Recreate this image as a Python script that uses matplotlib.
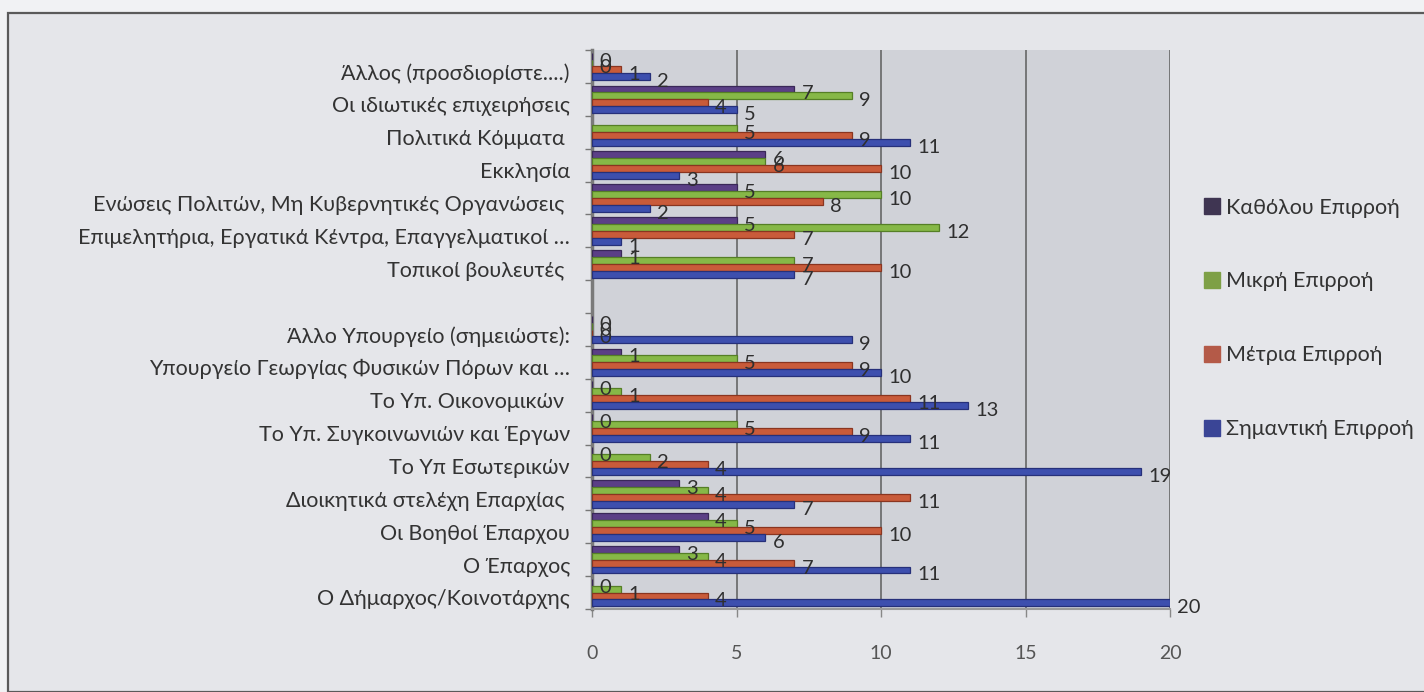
import numpy as np
import matplotlib
matplotlib.use('Agg')
import matplotlib.pyplot as plt
from matplotlib.patches import Rectangle
from matplotlib.lines import Line2D

plt.rcParams['font.family'] = ['Lato', 'DejaVu Sans']

# categories, top to bottom (one empty slot between the two groups)
categories = [
    'Άλλος (προσδιορίστε....)',
    'Οι ιδιωτικές επιχειρήσεις',
    'Πολιτικά Κόμματα ',
    'Εκκλησία',
    'Ενώσεις Πολιτών, Μη Κυβερνητικές Οργανώσεις ',
    'Επιμελητήρια, Εργατικά Κέντρα, Επαγγελματικοί …',
    'Τοπικοί βουλευτές ',
    '',
    'Άλλο Υπουργείο (σημειώστε):',
    'Υπουργείο Γεωργίας Φυσικών Πόρων και …',
    'Το Υπ. Οικονομικών ',
    'Το Υπ. Συγκοινωνιών και Έργων',
    'Το Υπ Εσωτερικών',
    'Διοικητικά στελέχη Επαρχίας ',
    'Οι Βοηθοί Έπαρχου',
    'Ο Έπαρχος',
    'Ο Δήμαρχος/Κοινοτάρχης',
]

nan = np.nan
kathólou = [0, 7, nan, 6, 5, 5, 1, nan, 0, 1, 0, 0, 0, 3, 4, 3, 0]
mikri = [0, 9, 5, 6, 10, 12, 7, nan, 0, 5, 1, 5, 2, 4, 5, 4, 1]
metria = [1, 4, 9, 10, 8, 7, 10, nan, 0, 9, 11, 9, 4, 11, 10, 7, 4]
simantiki = [2, 5, 11, 3, 2, 1, 7, nan, 9, 10, 13, 11, 19, 7, 6, 11, 20]

series_names = ['Καθόλου Επιρροή', 'Μικρή Επιρροή', 'Μέτρια Επιρροή', 'Σημαντική Επιρροή']
series_values = [kathólou, mikri, metria, simantiki]
face_colors = ['#5b3f86', '#86b847', '#c95b3a', '#3d4fae']
edge_colors = ['#3a2858', '#557f26', '#8a3520', '#26307a']
legend_colors = ['#3f3552', '#7ea046', '#b45a48', '#3a4596']

fig = plt.figure(figsize=(14.24, 6.92), dpi=100, facecolor='#f1f2f4')

# outer frame of the chart
fig.patches.append(Rectangle((8 / 1424, 0), 1.0, 1 - 13 / 692, transform=fig.transFigure,
                             facecolor='#e5e6ea', edgecolor='#5a5a5a', linewidth=1.6, zorder=-5))

ax = fig.add_axes([592 / 1424, 1 - 609 / 692, 578 / 1424, 559 / 692])
ax.set_facecolor('#d0d2d8')

y = np.arange(len(categories))
bar_h = 0.21
offsets = [-0.315, -0.105, 0.105, 0.315]

for vals, off, fc, ec in zip(series_values, offsets, face_colors, edge_colors):
    vals = np.array(vals, dtype=float)
    ax.barh(y + off, vals, height=bar_h, color=fc, edgecolor=ec, linewidth=0.9, zorder=3)
    # data labels sit a little below their bar, as in the original
    for yi, v in zip(y, vals):
        if np.isnan(v):
            continue
        ax.text(v + 0.25, yi + off + 0.15, f'{int(v)}', ha='left', va='center',
                fontsize=14.5, color='#2f2f2f', zorder=5)

ax.set_xlim(0, 20)
ax.set_ylim(len(categories) - 0.5, -0.5)
ax.set_xticks([0, 5, 10, 15, 20])
ax.set_xticklabels(['0', '5', '10', '15', '20'])
ax.xaxis.grid(True, color='#666666', linewidth=1.2, zorder=1)

ax.set_yticks(y + 0.15)
ax.set_yticklabels(categories)
ax.set_yticks(np.arange(len(categories) + 1) - 0.5, minor=True)
ax.tick_params(axis='y', which='major', length=0, pad=16, labelsize=15.5, labelcolor='#333333')
ax.tick_params(axis='y', which='minor', length=5, width=1, color='#777777', direction='out')
ax.tick_params(axis='x', length=6, width=1, color='#888888', pad=20, labelsize=14, labelcolor='#555555')

for side in ['top', 'right']:
    ax.spines[side].set_visible(False)
ax.spines['left'].set_color('#7a7a7a')
ax.spines['left'].set_linewidth(2.5)
ax.spines['bottom'].set_color('#9a9a9a')
ax.spines['bottom'].set_linewidth(1.5)

# legend at the right with wide spacing
handles = [Line2D([0], [0], marker='s', linestyle='', markersize=11, markerfacecolor=c,
                  markeredgecolor=c) for c in legend_colors]
leg = fig.legend(handles, series_names, loc='upper left', bbox_to_anchor=(1195 / 1424, 1 - 189 / 692),
                 frameon=False, fontsize=15.5, labelspacing=2.5, handlelength=0.75,
                 handletextpad=0.3, borderaxespad=0)
for t in leg.get_texts():
    t.set_color('#333333')

plt.savefig('out.png', dpi=100, facecolor=fig.get_facecolor())
